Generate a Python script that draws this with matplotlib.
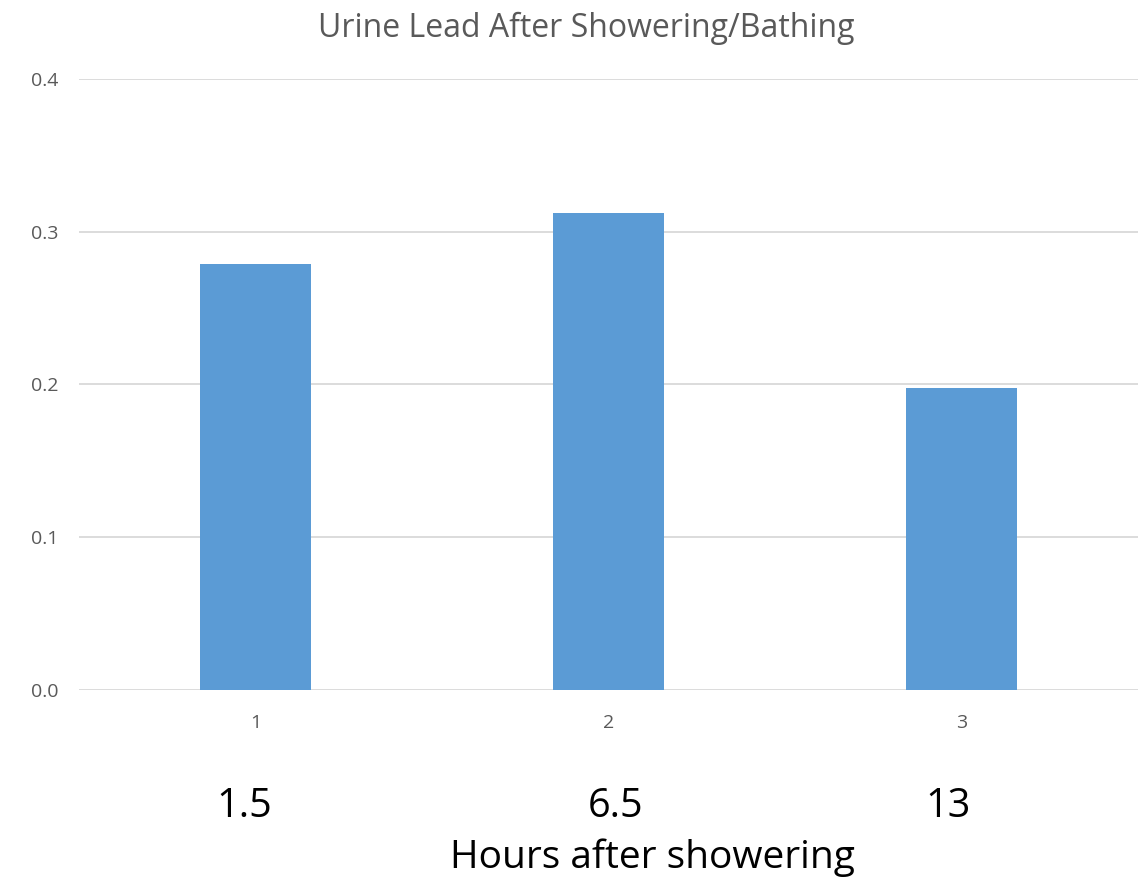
import matplotlib.pyplot as plt

categories = [1, 2, 3]
values = [0.279, 0.312, 0.198]
hour_labels = ["1.5", "6.5", "13"]
y_ticks = [0.0, 0.1, 0.2, 0.3, 0.4]

W, H = 1145, 883
fig = plt.figure(figsize=(W / 100, H / 100), dpi=100)
ax = fig.add_axes([79 / W, 1 - 690 / H, 1059 / W, 611 / H])

ax.bar(categories, values, width=0.315, color="#5B9BD5", zorder=3)

ax.set_xlim(0.5, 3.5)
ax.set_ylim(0, 0.4)
ax.set_yticks(y_ticks)
ax.set_yticklabels([f"{v:.1f}" for v in y_ticks])
ax.set_xticks(categories)
ax.set_xticklabels([str(c) for c in categories])
ax.grid(axis="y", color="#D9D9D9", linewidth=1.3, zorder=0)
for s in ax.spines.values():
    s.set_visible(False)
ax.tick_params(axis="both", length=0, colors="#595959", labelsize=14)
ax.tick_params(axis="y", pad=15)
ax.tick_params(axis="x", pad=17)
for lbl in ax.get_xticklabels() + ax.get_yticklabels():
    lbl.set_family("Open Sans")

fig.text(586 / W, 1 - 37 / H, "Urine Lead After Showering/Bathing", ha="center",
         va="baseline", fontsize=23, color="#595959", family="Open Sans")

# hand-placed labels under the axis
label_x = [244, 616, 948]
for x, lab in zip(label_x, hour_labels):
    fig.text(x / W, 1 - 817 / H, lab, ha="center", va="baseline",
             fontsize=28.5, color="black", family="Open Sans")

fig.text(652 / W, 1 - 868 / H, "Hours after showering", ha="center", va="baseline",
         fontsize=28, color="black", family="Open Sans")

fig.savefig("out.png", dpi=100)
